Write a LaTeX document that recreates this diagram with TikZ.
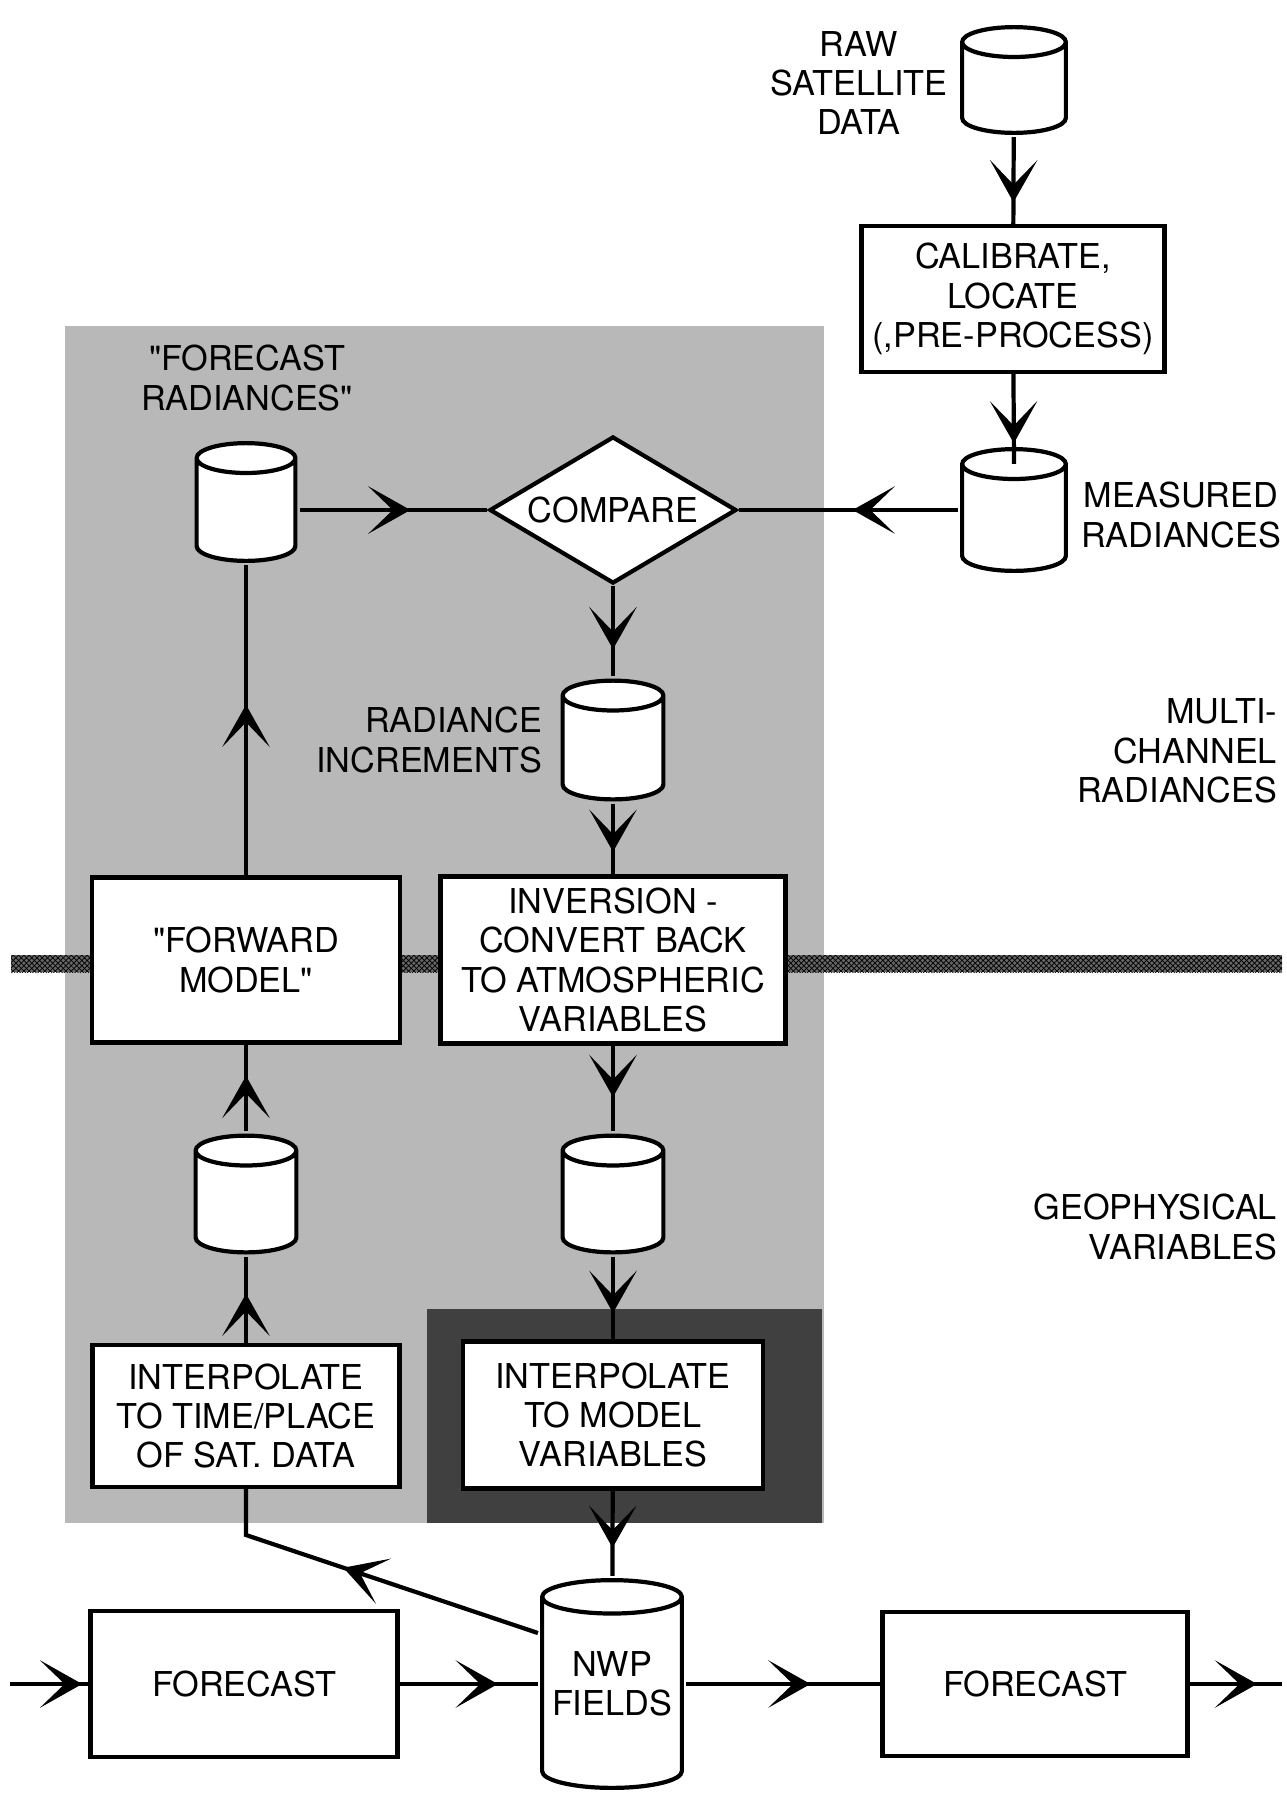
\documentclass[tikz,border=0pt]{standalone}
\usepackage{fontspec}
\setmainfont{TeX Gyre Heros}[Ligatures=TeXOff]
\usetikzlibrary{shapes.geometric,arrows.meta,decorations.markings,patterns,calc}

\tikzset{
  box/.style={draw, fill=white, align=center, inner sep=0pt},
  drum/.style={inner sep=0pt, align=center, path picture={
      \draw[fill=white] let \p1=([xshift=1.2pt,yshift=-1.2pt]path picture bounding box.north west),
                            \p2=([xshift=-1.2pt,yshift=1.2pt]path picture bounding box.south east),
                            \n1={(\x2-\x1)/2} in
        ({\x1},{\y1-#1}) -- ({\x1},{\y2+#1}) arc[start angle=180, end angle=360, x radius=\n1, y radius=#1]
        -- ({\x2},{\y1-#1}) arc[start angle=0, end angle=180, x radius=\n1, y radius=#1] -- cycle
        ({\x1},{\y1-#1}) arc[start angle=180, end angle=360, x radius=\n1, y radius=#1];
    }},
  drum/.default=8.5pt,
  lbl/.style={align=center, inner sep=0pt},
  flow/.style={decoration={markings, mark=at position #1 with {\arrow{Stealth[length=24pt,width=27pt,inset=14pt]}}}, postaction={decorate}},
}

\begin{document}
\begin{tikzpicture}[x=0.02cm, y=-0.02cm, line width=2.4pt, font=\fontsize{19.5}{22.4}\selectfont]
    \useasboundingbox (0,0) rectangle (1287,1796);

    % --------------------------------------------------------- %
    % ------------- shaded backgrounds
    % --------------------------------------------------------- %
    \fill[black!28] (65,326) rectangle (824,1523);
    \fill[black!75] (427,1309) rectangle (822,1523);
    % --- border between radiances and geophysical variables
    \fill[black!60] (11,955) rectangle (1282,972);
    \fill[pattern=crosshatch] (11,955) rectangle (1282,972);

    % --------------------------------------------------------- %
    % ------------- satellite branch
    % --------------------------------------------------------- %
    \node[drum, minimum width=2.16cm, minimum height=2.2cm] (raw) at (1014,80) {};
    \node[lbl] (rawlbl) at (859,83) {RAW\\SATELLITE\\DATA};
    \node[box, minimum width=6.06cm, minimum height=2.92cm] (cal) at (1013,299) {CALIBRATE,\\LOCATE\\(,PRE-PROCESS)};
    \draw[flow=0.75] (raw) -- (cal);
    \node[drum, minimum width=2.16cm, minimum height=2.52cm] (meas) at (1014,510) {};
    \node[lbl] (measlbl) at (1181,515) {MEASURED\\RADIANCES};
    \draw[flow=0.77] (cal) -- ([yshift=-0.38cm]meas.north);

    % --------------------------------------------------------- %
    % ------------- comparison and inversion
    % --------------------------------------------------------- %
    \node[diamond, draw, fill=white, inner sep=0pt, aspect=1.68, minimum width=4.94cm, minimum height=2.94cm] (cmp) at (613,510) {COMPARE};
    \draw[flow=0.48] (meas) -- (cmp);
    \node[drum, minimum width=2.06cm, minimum height=2.44cm] (fr) at (246,502) {};
    \node[lbl] (frlbl) at (247,378) {"FORECAST\\RADIANCES"};
    \draw[flow=0.59] (fr.east |- cmp) -- (cmp);
    \node[drum, minimum width=2.1cm, minimum height=2.46cm] (ri) at (613,740) {};
    \node[lbl, align=right, anchor=east] (rilbl) at (544,740) {RADIANCE\\INCREMENTS};
    \draw[flow=0.7] (cmp) -- (ri);
    \node[box, minimum width=6.9cm, minimum height=3.34cm] (inv) at (613,960) {INVERSION -\\CONVERT BACK\\TO ATMOSPHERIC\\VARIABLES};
    \draw[flow=0.68] (ri) -- (inv);
    \node[box, minimum width=6.16cm, minimum height=3.3cm] (fwd) at (246,960) {"FORWARD\\MODEL"};
    \draw[flow=0.55] (fwd) -- (fr);

    % --------------------------------------------------------- %
    % ------------- geophysical variables
    % --------------------------------------------------------- %
    \node[drum, minimum width=2.1cm, minimum height=2.42cm] (geofc) at (246,1194) {};
    \node[drum, minimum width=2.1cm, minimum height=2.42cm] (georet) at (613,1194) {};
    \draw[flow=0.64] (geofc) -- (fwd);
    \draw[flow=0.6] (inv) -- (georet);
    \node[box, minimum width=6.14cm, minimum height=2.84cm] (itime) at (246,1416) {INTERPOLATE\\TO TIME/PLACE\\OF SAT. DATA};
    \node[box, minimum width=6.0cm, minimum height=2.94cm] (imodel) at (613,1415) {INTERPOLATE\\TO MODEL\\VARIABLES};
    \draw[flow=0.57] (itime) -- (geofc);
    \draw[flow=0.68] (georet) -- (imodel);

    % --------------------------------------------------------- %
    % ------------- forecast cycle
    % --------------------------------------------------------- %
    \node[drum=9.5pt, minimum width=2.88cm, minimum height=4.24cm] (nwp) at (612,1684) {NWP\\FIELDS};
    \draw[flow=0.67] (imodel) -- (nwp);
    \coordinate (bend) at (246,1535);
    \draw[flow=0.58] ([yshift=1.02cm]nwp.west) -- (bend) -- (itime);
    \node[box, minimum width=6.14cm, minimum height=2.92cm] (fcl) at (244,1684) {FORECAST};
    \node[box, minimum width=6.1cm, minimum height=2.88cm] (fcr) at (1035,1684) {FORECAST};
    \coordinate (in0) at (10,1684);
    \coordinate (out0) at (1282,1684);
    \draw[flow=0.92] (in0) -- (fcl);
    \draw[flow=0.71] (fcl) -- (nwp);
    \draw[flow=0.64] (nwp) -- (fcr);
    \draw[flow=0.73] (fcr) -- (out0);

    % --------------------------------------------------------- %
    % ------------- side labels
    % --------------------------------------------------------- %
    \node[lbl, align=right, anchor=east] (multi) at (1279,751) {MULTI-\\CHANNEL\\RADIANCES};
    \node[lbl, align=right, anchor=east] (geo) at (1279,1227) {GEOPHYSICAL\\VARIABLES};

\end{tikzpicture}
\end{document}
